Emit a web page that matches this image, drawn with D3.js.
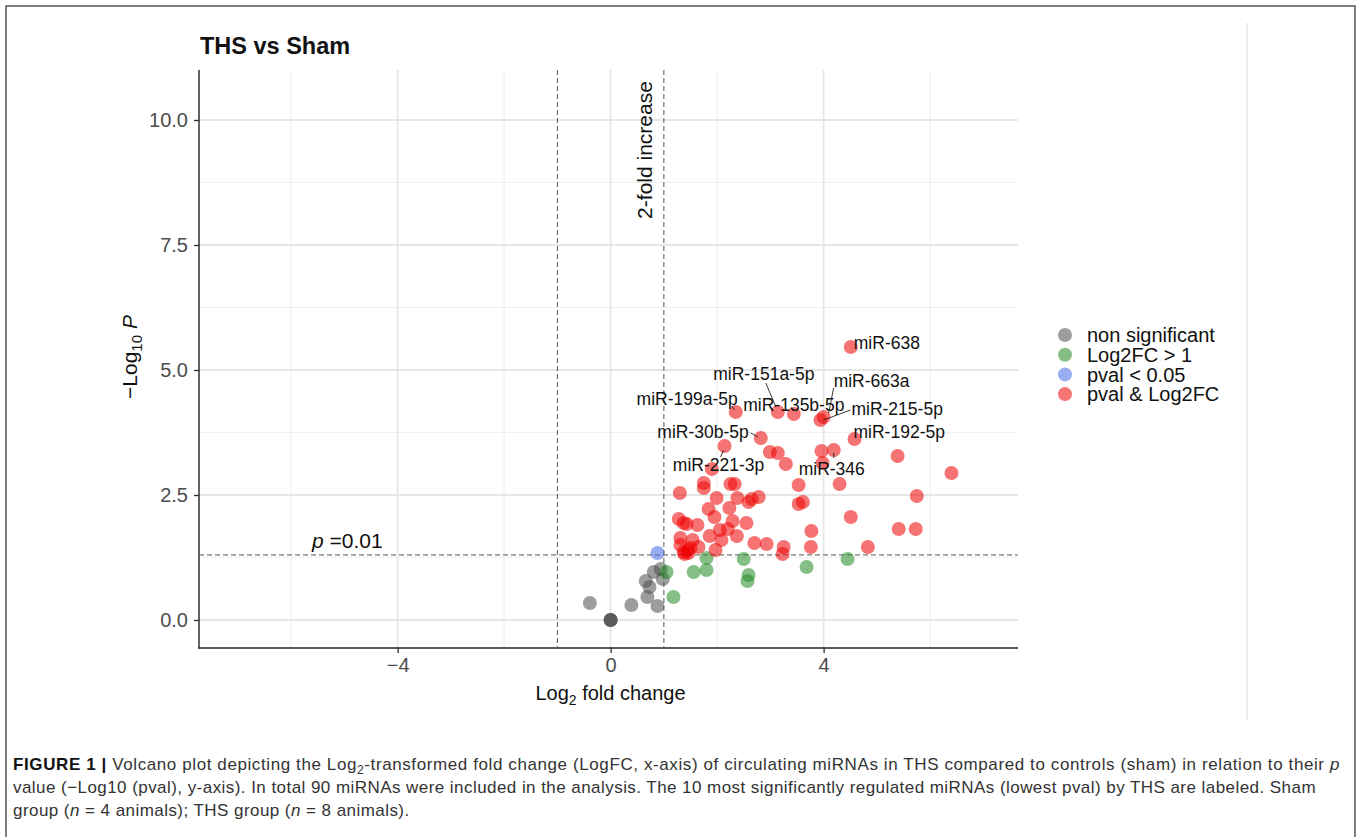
<!DOCTYPE html>
<html>
<head>
<meta charset="utf-8">
<script src="https://cdn.jsdelivr.net/npm/d3@7"></script>
<style>
  html, body { margin: 0; padding: 0; background: #fff; }
  svg { display: block; }
  text { font-family: "Liberation Sans", Arial, sans-serif; }
</style>
</head>
<body>
<svg id="chart" width="1360" height="837"></svg>
<script>
// ---------------- DATA ----------------
const categories = ["non significant", "Log2FC > 1", "pval < 0.05", "pval & Log2FC"];

// non significant (grey)
const nsLogFC = [-0.39, 0.39, 0.88, 0.69, 0.66, 0.73, 0.81, 0.94, 0.98, 0, 0, 0];
const nsLogP  = [ 0.34, 0.30, 0.28, 0.46, 0.78, 0.66, 0.96, 1.02, 0.82, 0, 0, 0];

// Log2FC > 1 only (green)
const fcLogFC = [1.05, 1.18, 1.56, 1.80, 1.80, 2.50, 2.59, 2.57, 3.68, 4.45];
const fcLogP  = [0.96, 0.46, 0.96, 1.24, 1.00, 1.22, 0.90, 0.78, 1.06, 1.22];

// pval < 0.05 only (blue)
const pvLogFC = [0.88];
const pvLogP  = [1.34];

// pval & Log2FC (red)
const bothLogFC = [4.51, 2.35, 3.14, 3.44, 3.94, 4.00, 4.58, 2.82, 2.14, 2.99,
                   3.14, 3.29, 3.96, 4.19, 5.39, 1.90, 3.98, 6.40, 1.75, 1.75,
                   2.25, 2.33, 1.30, 3.53, 4.30, 5.75, 1.99, 2.38, 2.59, 2.65,
                   2.78, 3.53, 3.61, 1.84, 2.23, 1.95, 1.28, 1.37, 1.43, 1.63,
                   2.29, 2.55, 2.05, 2.20, 1.86, 2.08, 2.37, 1.31, 1.54, 1.31,
                   1.37, 1.45, 1.39, 1.65, 1.97, 2.70, 2.93, 3.25, 3.23, 3.76,
                   3.77, 4.51, 5.41, 5.73, 4.83, 1.46, 1.50];
const bothLogP  = [5.46, 4.16, 4.16, 4.12, 4.00, 4.06, 3.62, 3.64, 3.48, 3.36,
                   3.34, 3.12, 3.38, 3.40, 3.28, 3.02, 3.14, 2.94, 2.74, 2.64,
                   2.72, 2.72, 2.54, 2.70, 2.72, 2.48, 2.44, 2.44, 2.36, 2.42,
                   2.46, 2.32, 2.36, 2.22, 2.24, 2.06, 2.02, 1.94, 1.92, 1.90,
                   1.98, 1.94, 1.80, 1.82, 1.68, 1.60, 1.68, 1.64, 1.60, 1.50,
                   1.36, 1.40, 1.32, 1.46, 1.40, 1.54, 1.52, 1.46, 1.32, 1.46,
                   1.78, 2.06, 1.82, 1.82, 1.46, 1.34, 1.44];

// labelled miRNAs (index into the red series)
const labelNames   = ["miR-638", "miR-199a-5p", "miR-151a-5p", "miR-135b-5p", "miR-215-5p",
                      "miR-663a", "miR-192-5p", "miR-30b-5p", "miR-221-3p", "miR-346"];
const labelIndex   = [0, 1, 2, 3, 4, 5, 6, 7, 8, 13];

const xTicks = [-4, 0, 4];
const yTicks = [0, 2.5, 5, 7.5, 10];
const xMinor = [-6, -2, 2, 6];
const yMinor = [1.25, 3.75, 6.25, 8.75];
const fcCutoff = 1;
const pCutoff = 0.05;

const captionLines = [
  [{b:true, t:"FIGURE 1 | "}, {t:"Volcano plot depicting the Log"}, {sub:true, t:"2"}, {t:"-transformed fold change (LogFC, x-axis) of circulating miRNAs in THS compared to controls (sham) in relation to their "}, {i:true, t:"p"}],
  [{t:"value (\u2212Log10 (pval), y-axis). In total 90 miRNAs were included in the analysis. The 10 most significantly regulated miRNAs (lowest pval) by THS are labeled. Sham"}],
  [{t:"group ("}, {i:true, t:"n"}, {t:" = 4 animals); THS group ("}, {i:true, t:"n"}, {t:" = 8 animals)."}]
];

// ---------------- LAYOUT / STYLE ----------------
const colors = ["#4d4d4d", "#228b22", "#4169e1", "#ee0000"];
const alpha = 0.55;
const R = 7;
const panel = {left: 199, right: 1018, top: 70, bottom: 648};
const captionWidths = [1327, 1303, null];   // null: use previous line's spacing
// label placement offsets in px relative to its point: [dx, dy, anchor, segment]
const labelLayout = [
  [3, 2, "start", null],
  [2, -7, "end", [-4, -6, -1, -2]],
  [-14, -32, "middle", [-12, -29, -2, -5]],
  [0, -3, "middle", null],
  [31, -5, "start", [30, -10, 3, 0]],
  [10, -30, "start", [10, -29, 5, -4]],
  [-1, -1, "start", null],
  [-12, 0, "end", [-10, -5, -3, -1]],
  [-6, 25, "middle", [-4, 11, -1, 4]],
  [-2, 25, "middle", [0, 8, 0, 3]]
];

const svg = d3.select("#chart");

// outer figure frame
svg.append("rect").attr("x", 6).attr("y", 6).attr("width", 1349).attr("height", 900)
  .attr("fill", "none").attr("stroke", "#555").attr("stroke-width", 1.5);
svg.append("line").attr("x1", 1247).attr("x2", 1247).attr("y1", 23).attr("y2", 720)
  .attr("stroke", "#ececec").attr("stroke-width", 2);

const x = d3.scaleLinear().domain([-7.73, 7.65]).range([panel.left, panel.right]);
const y = d3.scaleLinear().domain([-0.56, 11.0]).range([panel.bottom, panel.top]);

const g = svg.append("g");

// grid
g.selectAll(".xminor").data(xMinor).join("line")
  .attr("x1", d => x(d)).attr("x2", d => x(d)).attr("y1", panel.top).attr("y2", panel.bottom)
  .attr("stroke", "#f0f0f0").attr("stroke-width", 1.2);
g.selectAll(".yminor").data(yMinor).join("line")
  .attr("y1", d => y(d)).attr("y2", d => y(d)).attr("x1", panel.left).attr("x2", panel.right)
  .attr("stroke", "#f0f0f0").attr("stroke-width", 1.2);
g.selectAll(".xmajor").data(xTicks).join("line")
  .attr("x1", d => x(d)).attr("x2", d => x(d)).attr("y1", panel.top).attr("y2", panel.bottom)
  .attr("stroke", "#e6e6e6").attr("stroke-width", 1.8);
g.selectAll(".ymajor").data(yTicks).join("line")
  .attr("y1", d => y(d)).attr("y2", d => y(d)).attr("x1", panel.left).attr("x2", panel.right)
  .attr("stroke", "#e6e6e6").attr("stroke-width", 1.8);

// axes
const xAxis = g.append("g").attr("transform", `translate(0,${panel.bottom})`)
  .call(d3.axisBottom(x).tickValues(xTicks).tickFormat(d3.format("d")).tickSizeOuter(0).tickSize(5).tickPadding(5));
const yAxis = g.append("g").attr("transform", `translate(${panel.left},0)`)
  .call(d3.axisLeft(y).tickValues(yTicks).tickFormat(d3.format(".1f")).tickSizeOuter(0).tickSize(5).tickPadding(6));
[xAxis, yAxis].forEach(a => {
  a.select(".domain").remove();
  a.selectAll(".tick line").attr("stroke", "#333").attr("stroke-width", 1.3);
  a.selectAll(".tick text").attr("fill", "#4d4d4d").style("font-size", "20px")
    .style("font-family", "'Liberation Sans', Arial, sans-serif");
});
g.append("line").attr("x1", panel.left).attr("x2", panel.left).attr("y1", panel.top).attr("y2", panel.bottom + 0.7)
  .attr("stroke", "#222").attr("stroke-width", 1.4);
g.append("line").attr("x1", panel.left - 0.7).attr("x2", panel.right).attr("y1", panel.bottom).attr("y2", panel.bottom)
  .attr("stroke", "#222").attr("stroke-width", 1.4);

// cutoff lines
[-fcCutoff, fcCutoff].forEach(v => {
  g.append("line").attr("x1", x(v)).attr("x2", x(v)).attr("y1", panel.top).attr("y2", panel.bottom)
    .attr("stroke", "#555").attr("stroke-width", 1).attr("stroke-dasharray", "5,3");
});
g.append("line").attr("x1", panel.left).attr("x2", panel.right)
  .attr("y1", y(-Math.log10(pCutoff))).attr("y2", y(-Math.log10(pCutoff)))
  .attr("stroke", "#555").attr("stroke-width", 1).attr("stroke-dasharray", "5,3");

// annotations on cutoffs
g.append("text").attr("transform", `translate(${x(fcCutoff) - 12},150) rotate(-90)`)
  .attr("text-anchor", "middle").style("font-size", "21px").attr("fill", "#111").text("2-fold increase");
const pt = g.append("text").attr("x", 312).attr("y", y(-Math.log10(pCutoff)) - 7)
  .style("font-size", "21px").attr("fill", "#111");
pt.append("tspan").style("font-style", "italic").text("p");
pt.append("tspan").text(" =0.01");

// points
const series = [
  [nsLogFC, nsLogP], [fcLogFC, fcLogP], [pvLogFC, pvLogP], [bothLogFC, bothLogP]
];
series.forEach((s, si) => {
  const pts = s[0].map((v, i) => ({fc: v, p: s[1][i]}));
  g.append("g").selectAll("circle").data(pts).join("circle")
    .attr("cx", d => x(d.fc)).attr("cy", d => y(d.p)).attr("r", R)
    .attr("fill", colors[si]).attr("fill-opacity", alpha);
});

// labels
labelNames.forEach((name, k) => {
  const idx = labelIndex[k];
  const px = x(bothLogFC[idx]), py = y(bothLogP[idx]);
  const [dx, dy, anchor, seg] = labelLayout[k];
  if (seg) {
    g.append("line").attr("x1", px + seg[0]).attr("y1", py + seg[1])
      .attr("x2", px + seg[2]).attr("y2", py + seg[3])
      .attr("stroke", "#222").attr("stroke-width", 0.9);
  }
  g.append("text").attr("x", px + dx).attr("y", py + dy).attr("text-anchor", anchor)
    .style("font-size", "17.5px").attr("fill", "#111").text(name);
});

// title
svg.append("text").attr("x", 200).attr("y", 54).style("font-size", "23.5px").style("font-weight", "bold")
  .attr("fill", "#111").text("THS vs Sham");

// axis titles
const xl = svg.append("text").attr("x", (panel.left + panel.right) / 2 + 2).attr("y", 700)
  .attr("text-anchor", "middle").style("font-size", "20px").attr("fill", "#111");
xl.append("tspan").text("Log");
xl.append("tspan").attr("dy", 5).style("font-size", "14px").text("2");
xl.append("tspan").attr("dy", -5).text(" fold change");

const yl = svg.append("text").attr("transform", `translate(137,357) rotate(-90)`)
  .attr("text-anchor", "middle").style("font-size", "21px").attr("fill", "#111");
yl.append("tspan").text("\u2212Log");
yl.append("tspan").attr("dy", 5).style("font-size", "15px").text("10");
yl.append("tspan").attr("dy", -5).text(" ");
yl.append("tspan").style("font-style", "italic").text("P");

// legend
const leg = svg.append("g");
categories.forEach((c, i) => {
  const cy = 335 + i * 19.7;
  leg.append("circle").attr("cx", 1065).attr("cy", cy).attr("r", R).attr("fill", colors[i]).attr("fill-opacity", alpha);
  leg.append("text").attr("x", 1087).attr("y", cy).attr("dy", "0.36em")
    .style("font-size", "20px").attr("fill", "#111").text(c);
});

// caption
let lastSpacing = 0;
captionLines.forEach((line, li) => {
  const t = svg.append("text").attr("x", 13).attr("y", 770 + li * 23)
    .style("font-size", "17px").attr("fill", "#333");
  let pendingUp = 0;
  let nChars = 0;
  line.forEach(seg => {
    const ts = t.append("tspan").text(seg.t);
    nChars += seg.t.length;
    if (seg.b) ts.style("font-weight", "bold").attr("fill", "#111");
    if (seg.i) ts.style("font-style", "italic");
    if (seg.sub) { ts.style("font-size", "12px").attr("dy", 4); pendingUp = 4; }
    else if (pendingUp) { ts.attr("dy", -pendingUp); pendingUp = 0; }
  });
  let ls = lastSpacing;
  if (captionWidths[li] !== null) {
    const natural = t.node().getComputedTextLength();
    ls = (captionWidths[li] - natural) / nChars;
    lastSpacing = ls;
  }
  t.style("letter-spacing", ls + "px");
});
</script>
</body>
</html>
